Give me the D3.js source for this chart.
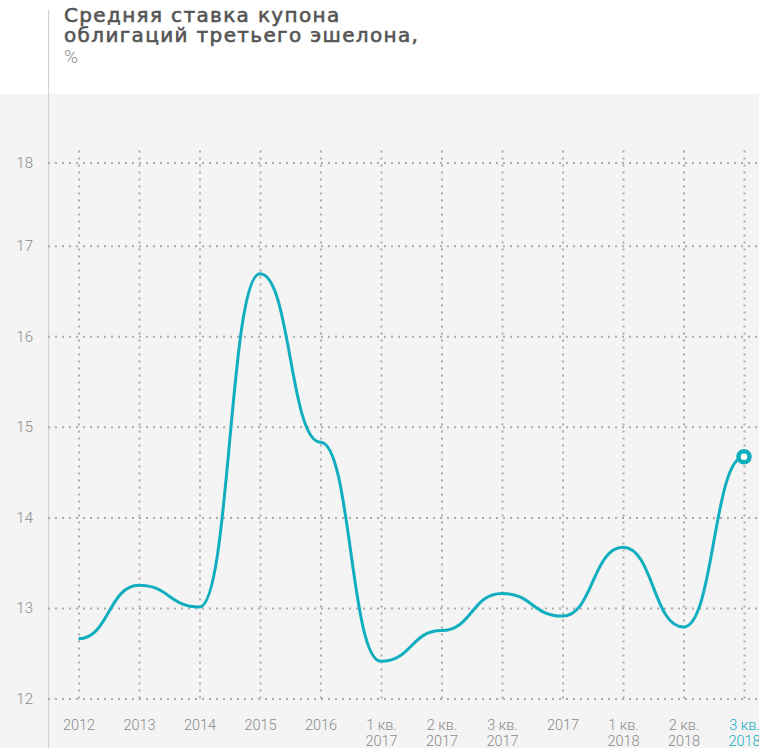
<!DOCTYPE html>
<html lang="ru">
<head>
<meta charset="utf-8">
<script src="https://cdn.jsdelivr.net/npm/d3@7"></script>
<style>
  html, body { margin: 0; padding: 0; background: #ffffff; }
  svg { display: block; }
</style>
</head>
<body>
<div id="chart"></div>
<script>
// Периоды по оси X (перенос строки делит подпись на две строки)
const categories = [
  "2012", "2013", "2014", "2015", "2016",
  "1 кв.\n2017", "2 кв.\n2017", "3 кв.\n2017", "2017",
  "1 кв.\n2018", "2 кв.\n2018", "3 кв.\n2018"
];
// Средняя ставка купона, %
const couponRate = [12.66, 13.25, 13.01, 16.69, 14.83, 12.41, 12.75, 13.16, 12.91, 13.67, 12.79, 14.67];
// Деления оси Y; верхняя линия сетки стоит у края области графика
const yTickValues = [12, 13, 14, 15, 16, 17, 17.92];
const yTickLabels = ["12", "13", "14", "15", "16", "17", "18"];

const titleLines = ["Средняя ставка купона", "облигаций третьего эшелона,"];
const unitLabel = "%";

const W = 759, H = 748;
const accent = "#10aebe";
const titleFont = "'DejaVu Sans', 'Noto Sans', sans-serif";
const font = "Roboto, 'Open Sans', sans-serif";

const svg = d3.select("#chart").append("svg")
  .attr("width", W).attr("height", H);

// фон области графика
svg.append("rect")
  .attr("x", 0).attr("y", 94).attr("width", W).attr("height", H - 94)
  .attr("fill", "#f4f4f4");

// вертикальная линия слева
svg.append("line")
  .attr("x1", 48.5).attr("x2", 48.5).attr("y1", 10).attr("y2", H)
  .attr("stroke", "#d2d2d2").attr("stroke-width", 1.2);

// заголовок: трекинг подбирается под ширину второй строки
const titleNodes = titleLines.map((t, i) =>
  svg.append("text")
    .attr("x", 64).attr("y", 22 + i * 19.5)
    .attr("font-family", titleFont)
    .attr("font-size", 20)
    .attr("fill", "#555555")
    .attr("stroke", "#555555")
    .attr("stroke-width", 0.6)
    .text(t)
);
const widest = titleNodes[1].node();
const spacing = Math.max(0, (354 - widest.getComputedTextLength()) / (titleLines[1].length - 1));
titleNodes.forEach(n => n.attr("letter-spacing", spacing.toFixed(2)));

svg.append("text")
  .attr("x", 64).attr("y", 63)
  .attr("font-family", font)
  .attr("font-size", 19)
  .attr("font-weight", 300)
  .attr("fill", "#8c8c8c")
  .text(unitLabel);

const x = d3.scalePoint().domain(categories).range([78.5, 744]);
const y = d3.scaleLinear().domain([12, 17]).range([698.5, 245.7]);

const gridColor = "#ababab";

// ось X с вертикальной сеткой
const xAxis = svg.append("g")
  .attr("transform", `translate(0,${y(12)})`)
  .call(d3.axisBottom(x).tickSize(-(y(12) - 147)).tickFormat(""));
xAxis.select(".domain").remove();
xAxis.selectAll(".tick line")
  .attr("stroke", gridColor)
  .attr("stroke-width", 2)
  .attr("stroke-dasharray", "2 5");

xAxis.selectAll(".tick").each(function (d, i) {
  const parts = d.split("\n");
  const t = d3.select(this).append("text")
    .attr("text-anchor", "middle")
    .attr("font-family", font)
    .attr("font-size", 14.5)
    .attr("font-weight", 300)
    .attr("fill", i === categories.length - 1 ? accent : "#8a8a8a");
  parts.forEach((p, j) => {
    t.append("tspan").attr("x", 0).attr("y", 31.5 + j * 15.5).text(p);
  });
});

// ось Y с горизонтальной сеткой
const yAxis = svg.append("g")
  .attr("transform", "translate(48,0)")
  .call(d3.axisLeft(y)
    .tickValues(yTickValues)
    .tickSize(-(W - 48))
    .tickPadding(15)
    .tickFormat((d, i) => yTickLabels[i]));
yAxis.select(".domain").remove();
yAxis.selectAll(".tick line")
  .attr("stroke", gridColor)
  .attr("stroke-width", 2)
  .attr("stroke-dasharray", "2 5");
yAxis.selectAll(".tick text")
  .attr("font-family", font)
  .attr("font-size", 15)
  .attr("font-weight", 300)
  .attr("fill", "#8a8a8a");

// линия ставки: горизонтальные касательные в каждой точке
const line = d3.line()
  .x((d, i) => x(categories[i]))
  .y(d => y(d))
  .curve(d3.curveBumpX);

svg.append("path")
  .datum(couponRate)
  .attr("d", line)
  .attr("fill", "none")
  .attr("stroke", accent)
  .attr("stroke-width", 3)
  .attr("stroke-linejoin", "round");

// маркер последнего значения
const last = couponRate.length - 1;
svg.append("circle")
  .attr("cx", x(categories[last]))
  .attr("cy", y(couponRate[last]))
  .attr("r", 5.5)
  .attr("fill", "#ffffff")
  .attr("stroke", accent)
  .attr("stroke-width", 4.5);
</script>
</body>
</html>
